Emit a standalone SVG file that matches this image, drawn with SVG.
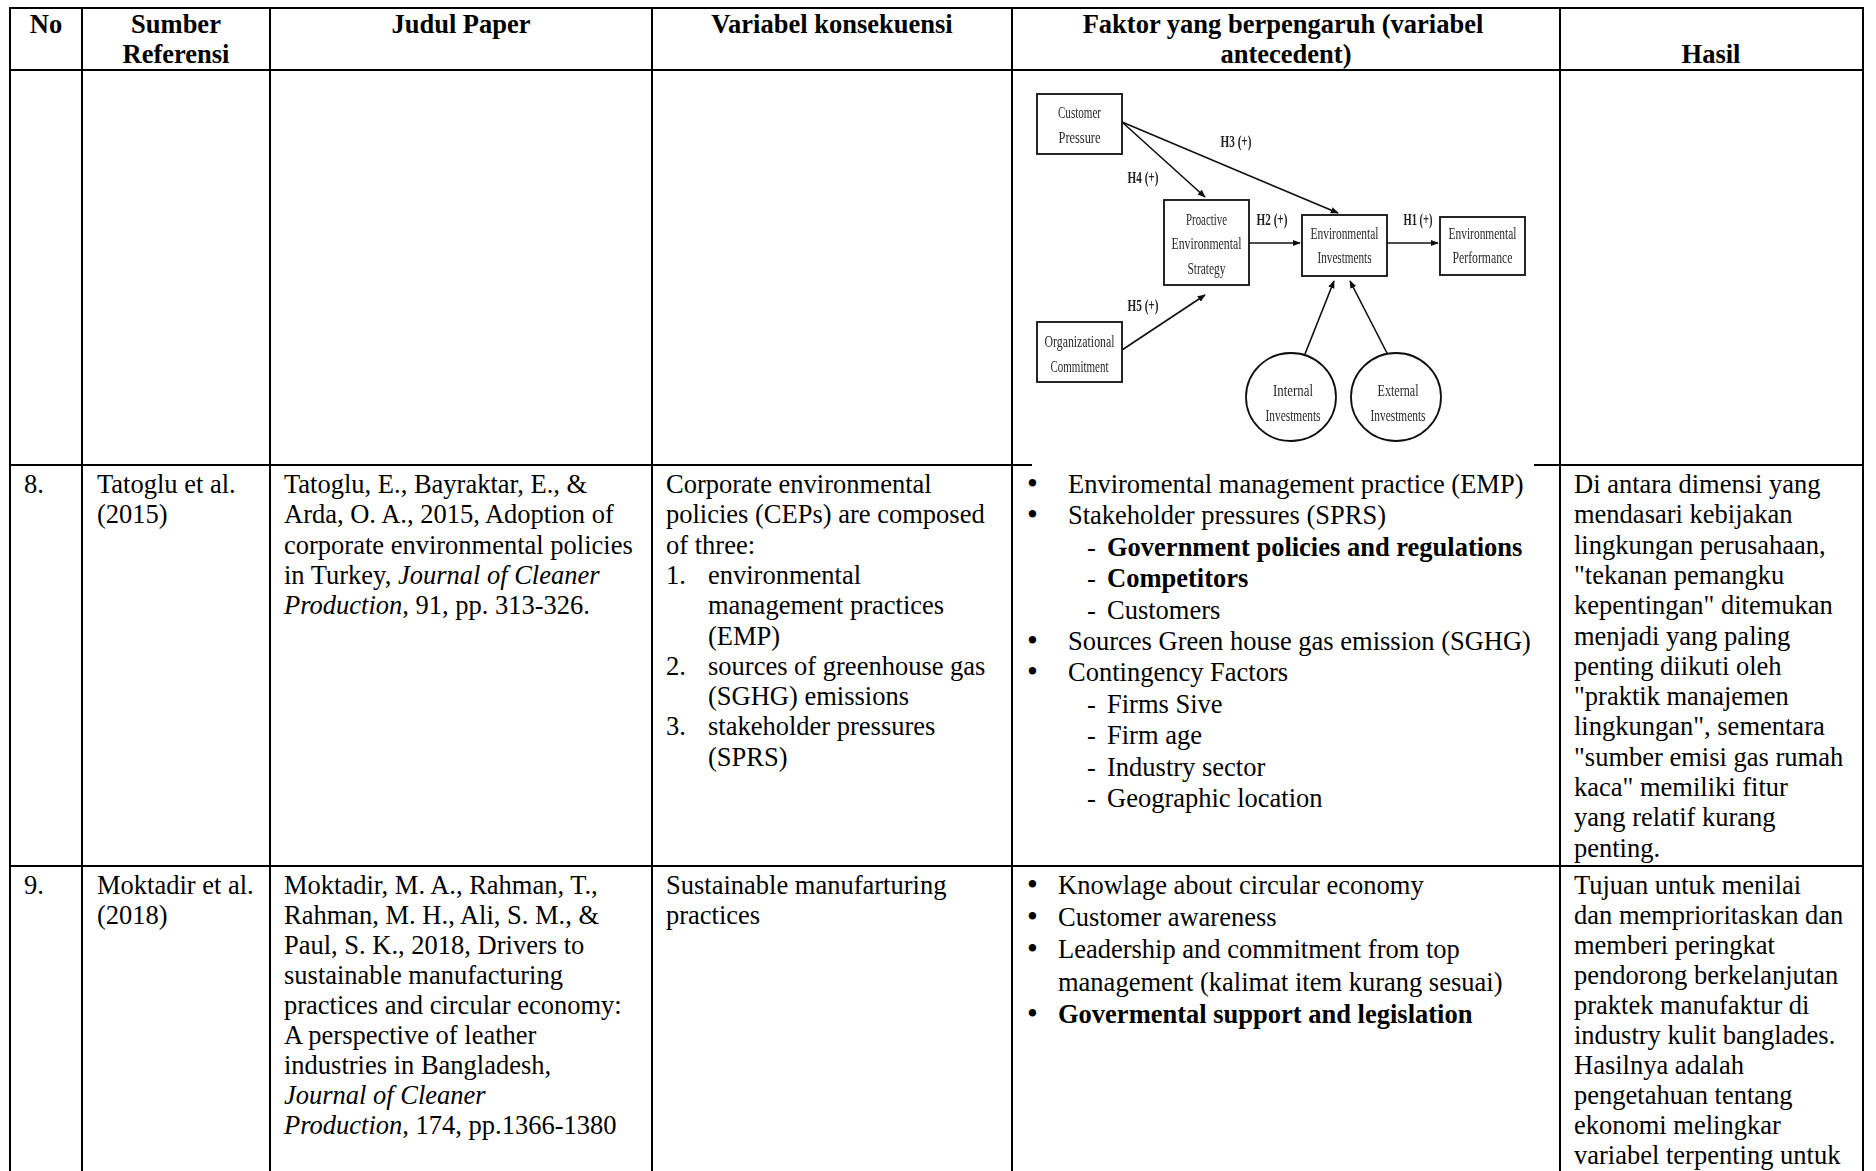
<svg xmlns="http://www.w3.org/2000/svg" width="1876" height="1171" viewBox="0 0 1876 1171">
  <defs>
    <style>
      .t{font-family:"Liberation Serif","Times New Roman",serif;font-size:26.5px;fill:#000}
      .h{font-weight:bold;text-anchor:middle}
      .b{font-weight:bold}
      .i{font-style:italic}
      .bu{font-size:31px}
      .grid line{stroke:#000;stroke-width:2}
      .d{font-family:"Liberation Serif","Times New Roman",serif;font-size:17.5px;fill:#2a2a2a;text-anchor:middle}
      .dl{font-family:"Liberation Serif","Times New Roman",serif;font-size:16px;font-weight:bold;fill:#222;text-anchor:middle}
      .box{fill:#fff;stroke:#111;stroke-width:1.8}
      .edge{stroke:#111;stroke-width:1.6;fill:none;marker-end:url(#ah)}
    </style>
    <marker id="ah" viewBox="0 0 10 10" refX="9" refY="5" markerWidth="8" markerHeight="8" orient="auto" markerUnits="userSpaceOnUse">
      <path d="M0,1 L10,5 L0,9 z" fill="#111"/>
    </marker>
    <filter id="soft" x="-5%" y="-5%" width="110%" height="110%">
      <feGaussianBlur stdDeviation="0.45"/>
    </filter>
  </defs>

  <rect width="1876" height="1171" fill="#fff"/>

  <!-- table rules -->
  <g id="grid" class="grid">
    <line x1="10" y1="8" x2="10" y2="1171"/>
    <line x1="82" y1="8" x2="82" y2="1171"/>
    <line x1="270" y1="8" x2="270" y2="1171"/>
    <line x1="652" y1="8" x2="652" y2="1171"/>
    <line x1="1012" y1="8" x2="1012" y2="1171"/>
    <line x1="1560" y1="8" x2="1560" y2="1171"/>
    <line x1="1863" y1="8" x2="1863" y2="1171"/>
    <line x1="9" y1="8" x2="1864" y2="8"/>
    <line x1="9" y1="70" x2="1864" y2="70"/>
    <line x1="9" y1="465" x2="1032" y2="465"/>
    <line x1="1534" y1="465" x2="1864" y2="465"/>
    <line x1="9" y1="866" x2="1864" y2="866"/>
  </g>

  <!-- header row -->
  <g id="header" class="t">
    <text class="h" x="46" y="32.5">No</text>
    <text class="h" x="176" y="32.5">Sumber</text>
    <text class="h" x="176" y="63">Referensi</text>
    <text class="h" x="461" y="32.5">Judul Paper</text>
    <text class="h" x="832" y="32.5">Variabel konsekuensi</text>
    <text class="h" x="1283" y="32.5">Faktor yang berpengaruh (variabel</text>
    <text class="h" x="1286" y="63">antecedent)</text>
    <text class="h" x="1711" y="63">Hasil</text>
  </g>

  <!-- research model figure in the antecedent column -->
  <g id="model" filter="url(#soft)">
    <g id="connectors">
      <line class="edge" x1="1122" y1="122" x2="1205" y2="197"/>
      <line class="edge" x1="1122" y1="122" x2="1338" y2="213"/>
      <line class="edge" x1="1249" y1="243" x2="1300" y2="243"/>
      <line class="edge" x1="1387" y1="243" x2="1438" y2="243"/>
      <line class="edge" x1="1122" y1="350" x2="1205" y2="295"/>
      <line class="edge" x1="1305" y1="354" x2="1334" y2="281"/>
      <line class="edge" x1="1388" y1="355" x2="1350" y2="281"/>
      <text class="dl" x="1236" y="147" textLength="31" lengthAdjust="spacingAndGlyphs">H3 (+)</text>
      <text class="dl" x="1143" y="183" textLength="31" lengthAdjust="spacingAndGlyphs">H4 (+)</text>
      <text class="dl" x="1272" y="225" textLength="31" lengthAdjust="spacingAndGlyphs">H2 (+)</text>
      <text class="dl" x="1418" y="225" textLength="29" lengthAdjust="spacingAndGlyphs">H1 (+)</text>
      <text class="dl" x="1143" y="311" textLength="31" lengthAdjust="spacingAndGlyphs">H5 (+)</text>
    </g>
    <g id="customer-pressure">
      <rect class="box" x="1037" y="94" width="85" height="60"/>
      <text class="d" x="1079.5" y="118" textLength="43" lengthAdjust="spacingAndGlyphs">Customer</text>
      <text class="d" x="1079.5" y="143" textLength="42" lengthAdjust="spacingAndGlyphs">Pressure</text>
    </g>
    <g id="proactive-strategy">
      <rect class="box" x="1164" y="200" width="85" height="85"/>
      <text class="d" x="1206.5" y="225" textLength="41" lengthAdjust="spacingAndGlyphs">Proactive</text>
      <text class="d" x="1206.5" y="249" textLength="70" lengthAdjust="spacingAndGlyphs">Environmental</text>
      <text class="d" x="1206.5" y="274" textLength="38" lengthAdjust="spacingAndGlyphs">Strategy</text>
    </g>
    <g id="environmental-investments">
      <rect class="box" x="1302" y="215" width="85" height="61"/>
      <text class="d" x="1344.5" y="239" textLength="68" lengthAdjust="spacingAndGlyphs">Environmental</text>
      <text class="d" x="1344.5" y="263" textLength="54" lengthAdjust="spacingAndGlyphs">Investments</text>
    </g>
    <g id="environmental-performance">
      <rect class="box" x="1440" y="217" width="85" height="58"/>
      <text class="d" x="1482.5" y="239" textLength="68" lengthAdjust="spacingAndGlyphs">Environmental</text>
      <text class="d" x="1482.5" y="263" textLength="60" lengthAdjust="spacingAndGlyphs">Performance</text>
    </g>
    <g id="organizational-commitment">
      <rect class="box" x="1037" y="322" width="85" height="60"/>
      <text class="d" x="1079.5" y="347" textLength="70" lengthAdjust="spacingAndGlyphs">Organizational</text>
      <text class="d" x="1079.5" y="372" textLength="58" lengthAdjust="spacingAndGlyphs">Commitment</text>
    </g>
    <g id="internal-investments">
      <ellipse class="box" cx="1291" cy="397" rx="45" ry="44"/>
      <text class="d" x="1293" y="396" textLength="40" lengthAdjust="spacingAndGlyphs">Internal</text>
      <text class="d" x="1293" y="421" textLength="55" lengthAdjust="spacingAndGlyphs">Investments</text>
    </g>
    <g id="external-investments">
      <ellipse class="box" cx="1396" cy="397" rx="45" ry="44"/>
      <text class="d" x="1398" y="396" textLength="41" lengthAdjust="spacingAndGlyphs">External</text>
      <text class="d" x="1398" y="421" textLength="55" lengthAdjust="spacingAndGlyphs">Investments</text>
    </g>
  </g>

  <!-- row 8 -->
  <g id="row-8" class="t">
    <text x="24" y="493">8.</text>
    <text x="97" y="493">Tatoglu et al.</text>
    <text x="97" y="523.3">(2015)</text>

    <text x="284" y="493">Tatoglu, E., Bayraktar, E., &amp;</text>
    <text x="284" y="523.3">Arda, O. A., 2015, Adoption of</text>
    <text x="284" y="553.6">corporate environmental policies</text>
    <text x="284" y="583.9">in Turkey, <tspan class="i">Journal of Cleaner</tspan></text>
    <text x="284" y="614.2"><tspan class="i">Production</tspan>, 91, pp. 313-326.</text>

    <text x="666" y="493">Corporate environmental</text>
    <text x="666" y="523.3">policies (CEPs) are composed</text>
    <text x="666" y="553.6">of three:</text>
    <text x="666" y="583.9">1.</text>
    <text x="708" y="583.9">environmental</text>
    <text x="708" y="614.2">management practices</text>
    <text x="708" y="644.5">(EMP)</text>
    <text x="666" y="674.8">2.</text>
    <text x="708" y="674.8">sources of greenhouse gas</text>
    <text x="708" y="705.1">(SGHG) emissions</text>
    <text x="666" y="735.4">3.</text>
    <text x="708" y="735.4">stakeholder pressures</text>
    <text x="708" y="765.7">(SPRS)</text>

    <text class="bu" x="1027" y="494">•</text>
    <text x="1068" y="493">Enviromental management practice (EMP)</text>
    <text class="bu" x="1027" y="525.4">•</text>
    <text x="1068" y="524.4">Stakeholder pressures (SPRS)</text>
    <text x="1087" y="555.8">-</text>
    <text class="b" x="1107" y="555.8">Government policies and regulations</text>
    <text x="1087" y="587.2">-</text>
    <text class="b" x="1107" y="587.2">Competitors</text>
    <text x="1087" y="618.6">-</text>
    <text x="1107" y="618.6">Customers</text>
    <text class="bu" x="1027" y="651">•</text>
    <text x="1068" y="650">Sources Green house gas emission (SGHG)</text>
    <text class="bu" x="1027" y="682.4">•</text>
    <text x="1068" y="681.4">Contingency Factors</text>
    <text x="1087" y="712.8">-</text>
    <text x="1107" y="712.8">Firms Sive</text>
    <text x="1087" y="744.2">-</text>
    <text x="1107" y="744.2">Firm age</text>
    <text x="1087" y="775.6">-</text>
    <text x="1107" y="775.6">Industry sector</text>
    <text x="1087" y="807">-</text>
    <text x="1107" y="807">Geographic location</text>

    <text x="1574" y="493">Di antara dimensi yang</text>
    <text x="1574" y="523.3">mendasari kebijakan</text>
    <text x="1574" y="553.6">lingkungan perusahaan,</text>
    <text x="1574" y="583.9">"tekanan pemangku</text>
    <text x="1574" y="614.2">kepentingan" ditemukan</text>
    <text x="1574" y="644.5">menjadi yang paling</text>
    <text x="1574" y="674.8">penting diikuti oleh</text>
    <text x="1574" y="705.1">"praktik manajemen</text>
    <text x="1574" y="735.4">lingkungan", sementara</text>
    <text x="1574" y="765.7">"sumber emisi gas rumah</text>
    <text x="1574" y="796">kaca" memiliki fitur</text>
    <text x="1574" y="826.3">yang relatif kurang</text>
    <text x="1574" y="856.6">penting.</text>
  </g>

  <!-- row 9 -->
  <g id="row-9" class="t">
    <text x="24" y="894">9.</text>
    <text x="97" y="894">Moktadir et al.</text>
    <text x="97" y="924">(2018)</text>

    <text x="284" y="894">Moktadir, M. A., Rahman, T.,</text>
    <text x="284" y="924">Rahman, M. H., Ali, S. M., &amp;</text>
    <text x="284" y="954">Paul, S. K., 2018, Drivers to</text>
    <text x="284" y="984">sustainable manufacturing</text>
    <text x="284" y="1014">practices and circular economy:</text>
    <text x="284" y="1044">A perspective of leather</text>
    <text x="284" y="1074">industries in Bangladesh,</text>
    <text x="284" y="1104"><tspan class="i">Journal of Cleaner</tspan></text>
    <text x="284" y="1134"><tspan class="i">Production</tspan>, 174, pp.1366-1380</text>

    <text x="666" y="894">Sustainable manufarturing</text>
    <text x="666" y="924">practices</text>

    <text class="bu" x="1027" y="895">•</text>
    <text x="1058" y="894">Knowlage about circular economy</text>
    <text class="bu" x="1027" y="927.2">•</text>
    <text x="1058" y="926.2">Customer awareness</text>
    <text class="bu" x="1027" y="959.4">•</text>
    <text x="1058" y="958.4">Leadership and commitment from top</text>
    <text x="1058" y="990.6">management (kalimat item kurang sesuai)</text>
    <text class="bu" x="1027" y="1023.8">•</text>
    <text class="b" x="1058" y="1022.8">Govermental support and legislation</text>

    <text x="1574" y="894">Tujuan untuk menilai</text>
    <text x="1574" y="924">dan memprioritaskan dan</text>
    <text x="1574" y="954">memberi peringkat</text>
    <text x="1574" y="984">pendorong berkelanjutan</text>
    <text x="1574" y="1014">praktek manufaktur di</text>
    <text x="1574" y="1044">industry kulit banglades.</text>
    <text x="1574" y="1074">Hasilnya adalah</text>
    <text x="1574" y="1104">pengetahuan tentang</text>
    <text x="1574" y="1134">ekonomi melingkar</text>
    <text x="1574" y="1164">variabel terpenting untuk</text>
  </g>
</svg>
